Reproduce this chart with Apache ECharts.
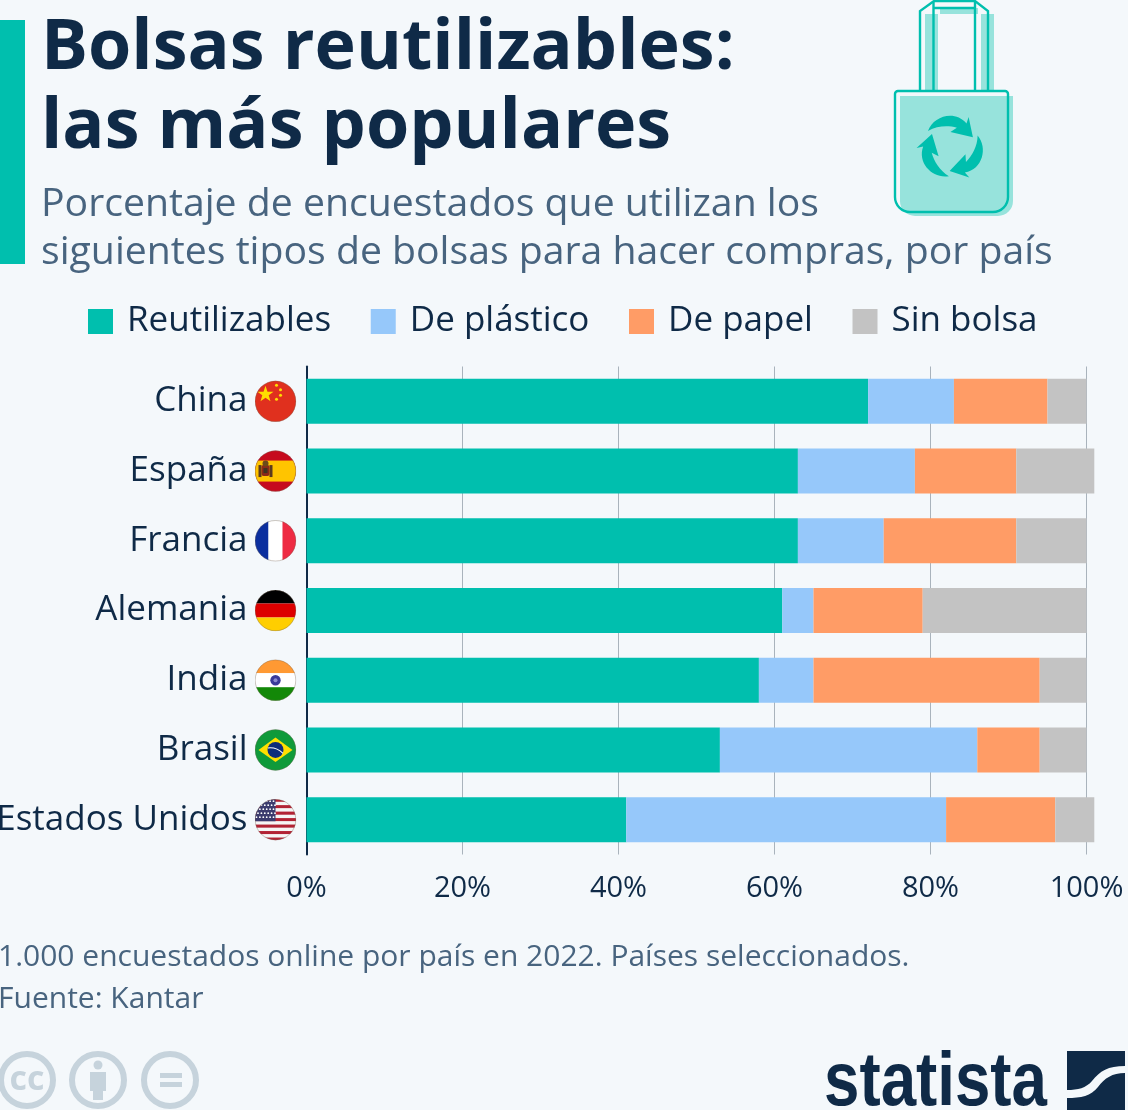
<!DOCTYPE html>
<html><head><meta charset="utf-8">
<style>html,body{margin:0;padding:0;background:#f4f8fb}#c{width:1128px;height:1110px}</style>
<script src="https://cdn.jsdelivr.net/npm/echarts@6/dist/echarts.min.js"></script>
</head><body><div id="c"></div>
<script>
const categories = ['China','España','Francia','Alemania','India','Brasil','Estados Unidos'];
const reutilizables = [72,63,63,61,58,53,41];
const plastico = [11,15,11,4,7,33,41];
const papel = [12,13,17,14,29,8,14];
const sinBolsa = [5,10,9,21,6,6,5];
const seriesNames = ['Reutilizables','De plástico','De papel','Sin bolsa'];
const xTicks = [0,20,40,60,80,100];
const titleText = 'Bolsas reutilizables:\nlas más populares';
const subtitleText = 'Porcentaje de encuestados que utilizan los\nsiguientes tipos de bolsas para hacer compras, por país';
const noteLines = ['1.000 encuestados online por país en 2022. Países seleccionados.','Fuente: Kantar'];

const INK='#0f2a47', SUB='#48647f', TEAL='#00bfae', BG='#f4f8fb';
const uri = s => 'data:image/svg+xml;charset=utf-8,'+encodeURIComponent(s);
const flagWrap = inner => `<svg xmlns="http://www.w3.org/2000/svg" width="42" height="42" viewBox="0 0 42 42"><defs><clipPath id="k"><circle cx="21" cy="21" r="20.5"/></clipPath></defs><g clip-path="url(#k)">${inner}</g><circle cx="21" cy="21" r="20.3" fill="none" stroke="#7a6a5a" stroke-opacity=".55" stroke-width=".7"/></svg>`;
let usStripes='';
for(let i=0;i<13;i++){usStripes+=`<rect x="0" y="${i*3.24}" width="42" height="3.24" fill="${i%2?'#f5f5f5':'#b22234'}"/>`;}
let usStars='';
for(let r=0;r<5;r++)for(let q=0;q<6;q++){usStars+=`<circle cx="${2+q*3.4+(r%2)*1.5}" cy="${2.5+r*4}" r=".9" fill="#fff"/>`;}
const flags = {
 'China': flagWrap(`<rect width="42" height="42" fill="#e0301e"/><polygon points="11,5.5 13,11.5 19,11.5 14.2,15 16,21 11,17.3 6,21 7.8,15 3,11.5 9,11.5" fill="#ffde00"/><circle cx="22" cy="5" r="1.5" fill="#ffde00"/><circle cx="26" cy="9.5" r="1.5" fill="#ffde00"/><circle cx="26" cy="15" r="1.5" fill="#ffde00"/><circle cx="22" cy="19" r="1.5" fill="#ffde00"/>`),
 'España': flagWrap(`<rect width="42" height="42" fill="#c60b1e"/><rect y="10.5" width="42" height="21" fill="#ffc400"/><rect x="4" y="15" width="3" height="12" fill="#5c3a1e"/><rect x="15" y="15" width="3" height="12" fill="#5c3a1e"/><rect x="7" y="15" width="8" height="11" rx="2" fill="#8a2a1a"/><circle cx="11" cy="13.500" r="3" fill="#6b4a1a"/><rect x="9" y="18" width="4" height="5" fill="#3d3320"/>`),
 'Francia': flagWrap(`<rect width="14" height="42" fill="#0b2f9f"/><rect x="14" width="14" height="42" fill="#fff"/><rect x="28" width="14" height="42" fill="#ee2b43"/>`),
 'Alemania': flagWrap(`<rect width="42" height="14" fill="#000"/><rect y="14" width="42" height="14" fill="#dd0000"/><rect y="28" width="42" height="14" fill="#ffce00"/>`),
 'India': flagWrap(`<rect width="42" height="14" fill="#ff9933"/><rect y="14" width="42" height="14" fill="#fff"/><rect y="28" width="42" height="14" fill="#138808"/><circle cx="21" cy="21" r="5.2" fill="#3a3a9a"/><circle cx="21" cy="21" r="2" fill="#8a8ad0"/>`),
 'Brasil': flagWrap(`<rect width="42" height="42" fill="#0f9a3a"/><polygon points="21,8.5 38,21 21,33 4,21" fill="#ffdf00"/><circle cx="21" cy="21" r="8" fill="#0f2d7a"/><path d="M13.5 19 Q22 18 28.5 24.5" stroke="#fff" stroke-width="1.1" fill="none"/>`),
 'Estados Unidos': flagWrap(`${usStripes}<rect width="21" height="22.6" fill="#3c3b6e"/>${usStars}`)
};
const bagSvg = `<svg xmlns="http://www.w3.org/2000/svg" width="130" height="225" viewBox="890 0 130 225">
<g fill="#97e3dc"><path d="M900 96H1013V201a15 15 0 0 1-15 15H915a15 15 0 0 1-15-15Z"/><rect x="925" y="14" width="13" height="78"/><rect x="981" y="14" width="13" height="78"/><rect x="940" y="8" width="38" height="6"/></g>
<g fill="none" stroke="#00bfae" stroke-width="2.4"><path d="M898 91H1005a3 3 0 0 1 3 3V197a15 15 0 0 1-15 15H910a15 15 0 0 1-15-15V94a3 3 0 0 1 3-3Z"/><path d="M920 90V11L934 1H975L988 11V90"/><path d="M933.500 1V90M975 1V90M934 8H975"/></g>
<g fill="#00bfae">${[0,120,240].map(a=>`<path transform="translate(951.500 147.500) rotate(${a}) scale(1.07) translate(-951 -147.500)" d="M929 132C934 118 954 112 965 125L967 119L971 138L950 133L956 129C948 127 938 127 929 132Z"/>`).join('')}</g></svg>`;
const logoSvg = `<svg xmlns="http://www.w3.org/2000/svg" width="60" height="60" viewBox="1066 1050 60 60"><g fill="${INK}"><path d="M1067 1051H1125V1066C1108 1066 1100 1071 1092 1081C1086 1088 1078 1090 1067 1090Z"/><path d="M1125 1073C1112 1073 1105 1078 1098 1087C1091 1096 1081 1098 1067 1098V1110H1125Z"/></g></svg>`;
const ccStroke='#c6d3dc';

const chart = echarts.init(document.getElementById('c'),null,{renderer:'canvas'});
const colors=[TEAL,'#96c8fa','#ff9c66','#c3c3c3'];
const values=[reutilizables,plastico,papel,sinBolsa];
chart.setOption({
 backgroundColor:BG, animation:false,
 title:{text:titleText,subtext:subtitleText,left:41,top:10,padding:0,itemGap:13,
  textStyle:{fontFamily:'Open Sans',fontWeight:700,fontSize:70,lineHeight:79,color:INK},
  subtextStyle:{fontFamily:'Open Sans',fontWeight:400,fontSize:39.2,lineHeight:48,color:SUB}},
 legend:{data:seriesNames,left:88,top:304,padding:0,itemGap:39.6,itemWidth:25,itemHeight:25,icon:'rect',
  textStyle:{fontFamily:'Open Sans',fontSize:35,color:INK,padding:[0,0,0,9]}, selectedMode:false},
 grid:{left:306.5,right:41.5,top:366.5,height:488,containLabel:false,outerBoundsMode:'none'},
 xAxis:{type:'value',min:0,max:100,interval:20,
  axisLine:{show:false},axisTick:{show:false},
  axisLabel:{margin:20,fontFamily:'Open Sans',fontSize:29,color:INK,formatter:v=>xTicks.includes(v)?v+'%':''},
  splitLine:{show:true,lineStyle:{color:'#a9b3bc',width:1}}},
 yAxis:{type:'category',inverse:true,data:categories,
  axisLine:{show:true,lineStyle:{color:INK,width:2}},axisTick:{show:false},
  axisLabel:{margin:59,fontFamily:'Open Sans',fontSize:35,color:INK,padding:[2,0,0,0]}},
 series:seriesNames.map((n,i)=>({name:n,type:'bar',stack:'t',data:values[i],barWidth:45,clip:false,itemStyle:{color:colors[i]}})),
});
const flagEls = categories.map(c=>{
 const y = chart.convertToPixel({yAxisIndex:0},c);
 return {type:'image',left:254.5,top:y-21,style:{image:uri(flags[c]),width:42,height:42}};
});
const t=(x,y,text,font,fill,extra,el)=>Object.assign({type:'text',x,y,style:Object.assign({text,font,fill,verticalAlign:'middle'},extra||{})},el||{});
const circ=(cx,cy)=>({type:'circle',shape:{cx,cy,r:26},style:{fill:'none',stroke:ccStroke,lineWidth:6}});
chart.setOption({graphic:[
 {type:'rect',shape:{x:0,y:20,width:25,height:244},style:{fill:TEAL}},
 {type:'image',x:890,y:0,style:{image:uri(bagSvg),width:130,height:225}},
 ...flagEls,
 t(-2,957,noteLines[0],'30px "Open Sans"',SUB),
 t(-2,999,noteLines[1],'30px "Open Sans"',SUB),
 circ(27,1080),circ(98,1080),circ(170,1080),
 t(27,1080,'cc','bold 34px "Open Sans"',ccStroke,{align:'center'}),
 {type:'circle',shape:{cx:98,cy:1065,r:4.5},style:{fill:ccStroke}},
 {type:'rect',shape:{x:90,y:1072,width:16,height:19},style:{fill:ccStroke}},
 {type:'rect',shape:{x:93,y:1088,width:10,height:12},style:{fill:ccStroke}},
 {type:'rect',shape:{x:160,y:1073,width:22,height:5},style:{fill:ccStroke}},
 {type:'rect',shape:{x:160,y:1082,width:22,height:5},style:{fill:ccStroke}},
 t(824,1084,'statista','bold 76px "Liberation Sans"',INK,null,{scaleX:0.838}),
 {type:'image',x:1066,y:1050,style:{image:uri(logoSvg),width:60,height:60}},
]});
</script></body></html>
